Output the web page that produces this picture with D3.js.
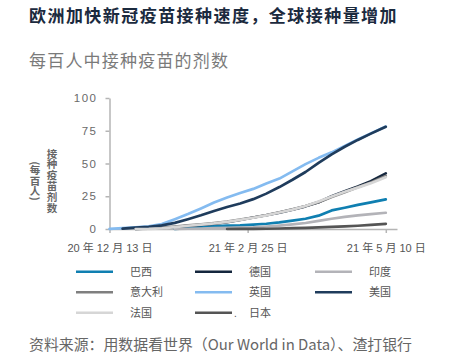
<!DOCTYPE html>
<html><head><meta charset="utf-8">
<script src="https://cdn.jsdelivr.net/npm/d3@7"></script>
<style>
html,body{margin:0;padding:0;background:#fff;}
svg{display:block;}
</style></head>
<body>
<svg id="c" width="459" height="355"></svg>
<script>
const titleText = "欧洲加快新冠疫苗接种速度，全球接种量增加";
const subtitleText = "每百人中接种疫苗的剂数";
const sourceText = "资料来源：用数据看世界（Our World in Data）、渣打银行";
const yTitle1 = "接种疫苗剂数";
const yTitle2 = "(每百人)";

const dates = ["2020-12-13","2020-12-20","2020-12-27","2021-01-03","2021-01-10","2021-01-17","2021-01-24","2021-01-31","2021-02-07","2021-02-14","2021-02-21","2021-02-28","2021-03-07","2021-03-14","2021-03-21","2021-03-28","2021-04-04","2021-04-11","2021-04-18","2021-04-25","2021-05-02","2021-05-10"];

const seriesNames = ["巴西","德国","印度","意大利","英国","美国","法国","日本"];
const seriesColors = ["#0f7fb1","#14263d","#b3b3b8","#7f7f7f","#84bbf0","#1f3c5c","#d6d6d6","#555555"];

const brazil  = [null,null,null,null,null,0.0,0.6,1.4,2.0,2.6,2.8,3.3,4.0,5.0,6.4,7.8,10.2,14.2,16.2,18.4,20.3,22.6];
const germany = [null,null,0.0,0.4,0.9,1.5,2.4,3.2,4.1,5.3,6.9,8.8,10.5,12.5,14.8,17.3,20.5,25.0,28.8,32.5,36.5,42.5];
const india   = [null,null,null,null,null,0.0,0.2,0.4,0.6,0.8,1.0,1.3,1.9,2.6,3.5,4.6,6.2,7.8,9.2,10.4,11.3,12.4];
const italy   = [null,null,0.0,0.3,1.0,1.9,2.8,3.6,4.5,5.6,7.2,8.8,10.6,12.8,15.0,17.5,20.5,24.5,28.0,31.8,35.5,40.5];
const uk      = [0.1,0.6,1.2,2.0,3.8,7.5,11.4,15.7,20.2,24.0,27.5,30.6,34.8,38.5,44.0,49.5,54.3,58.5,63.3,68.3,73.0,78.2];
const us      = [null,0.3,1.0,1.6,2.8,4.7,7.5,10.5,13.8,16.8,19.5,22.8,27.0,32.0,37.6,43.5,50.5,57.0,62.8,68.0,72.8,78.0];
const france  = [null,null,0.0,0.1,0.5,1.4,2.5,3.4,4.3,5.5,7.0,8.6,10.4,12.6,14.8,17.6,21.0,24.8,28.5,31.6,35.0,39.5];
const japan   = [null,null,null,null,null,null,null,null,null,0.0,0.05,0.1,0.2,0.4,0.6,0.9,1.2,1.6,2.0,2.5,3.1,3.9];
const seriesValues = [brazil,germany,india,italy,uk,us,france,japan];

const yTicks = [0,25,50,75,100];
const xTickDates = ["2020-12-13","2021-02-25","2021-05-10"];
const xTickLabels = ["20 年 12 月 13 日","21 年 2 月 25 日","21 年 5 月 10 日"];
const xDomain = ["2020-12-13","2021-05-16"];

const parse = d3.utcParse("%Y-%m-%d");
const svg = d3.select("#c");
const cjk = "'Noto Sans CJK SC', sans-serif";
const num = "'Liberation Sans', 'Noto Sans CJK SC', sans-serif";

// titles
svg.append("text").attr("x",29).attr("y",22).text(titleText)
  .attr("font-family",cjk).attr("font-weight","bold").attr("font-size",17)
  .attr("letter-spacing",1.45).attr("fill","#1b2a3e");
svg.append("text").attr("x",29).attr("y",67).text(subtitleText)
  .attr("font-family",cjk).attr("font-size",17)
  .attr("letter-spacing",1.2).attr("fill","#7a7a7a");

const x = d3.scaleUtc().domain(xDomain.map(parse)).range([109.5,397]);
const y = d3.scaleLinear().domain([0,100]).range([229,98]);

// y axis
const gy = svg.append("g").attr("transform","translate(109.5,0)")
  .call(d3.axisLeft(y).tickValues(yTicks).tickSize(4).tickPadding(8).tickSizeOuter(0));
gy.select(".domain").attr("stroke","#b5b5b5").attr("stroke-width",1.5);
gy.selectAll(".tick line").attr("stroke","#b5b5b5").attr("stroke-width",1.5);
gy.selectAll(".tick text").attr("font-family",num).attr("font-size",11.5)
  .attr("letter-spacing",1.5).attr("fill","#6a6a6a");

// x axis
const gx = svg.append("g").attr("transform","translate(0,229)")
  .call(d3.axisBottom(x).tickValues(xTickDates.map(parse))
    .tickFormat((d,i)=>xTickLabels[i]).tickSize(4).tickPadding(11).tickSizeOuter(0));
gx.select(".domain").attr("stroke","#b5b5b5").attr("stroke-width",1.5);
gx.selectAll(".tick line").attr("stroke","#b5b5b5").attr("stroke-width",1.5);
gx.selectAll(".tick text").attr("font-family",num).attr("font-size",11)
  .attr("fill","#555");

// y title (vertical)
svg.append("text").attr("x",52).attr("y",181).text(yTitle1)
  .attr("font-family",cjk).attr("font-weight","bold").attr("font-size",10.5)
  .attr("letter-spacing",0.4)
  .attr("fill","#666").attr("text-anchor","middle")
  .style("writing-mode","vertical-rl");
svg.append("text").attr("x",35).attr("y",181).text(yTitle2)
  .attr("font-family",cjk).attr("font-weight","bold").attr("font-size",10.5)
  .attr("fill","#666").attr("text-anchor","middle")
  .style("writing-mode","vertical-rl");

// lines
const line = d3.line()
  .defined(d=>d.v!==null)
  .x(d=>x(d.date)).y(d=>y(d.v));
seriesValues.forEach((vals,i)=>{
  const data = dates.map((d,j)=>({date:parse(d), v:vals[j]}));
  svg.append("path").datum(data).attr("d",line)
    .attr("fill","none").attr("stroke",seriesColors[i])
    .attr("stroke-width",2.7).attr("stroke-linejoin","round").attr("stroke-linecap","round");
});

// legend
const colX = [76,195,315];
const rowY = [271.7,292.3,312.7];
seriesNames.forEach((n,i)=>{
  const cx = colX[i%3], cy = rowY[Math.floor(i/3)];
  svg.append("line").attr("x1",cx).attr("x2",cx+37).attr("y1",cy).attr("y2",cy)
    .attr("stroke",seriesColors[i]).attr("stroke-width",2.6);
  svg.append("text").attr("x",cx+54).attr("y",cy+4).text(n)
    .attr("font-family",cjk).attr("font-size",11).attr("fill","#555");
});
svg.append("text").attr("x",234).attr("y",rowY[2]+4).text(".")
  .attr("font-family",num).attr("font-size",10).attr("fill","#555");

// source
svg.append("text").attr("x",29).attr("y",350).text(sourceText)
  .attr("font-family",cjk).attr("font-size",14.9).attr("fill","#666");
</script>
</body></html>
